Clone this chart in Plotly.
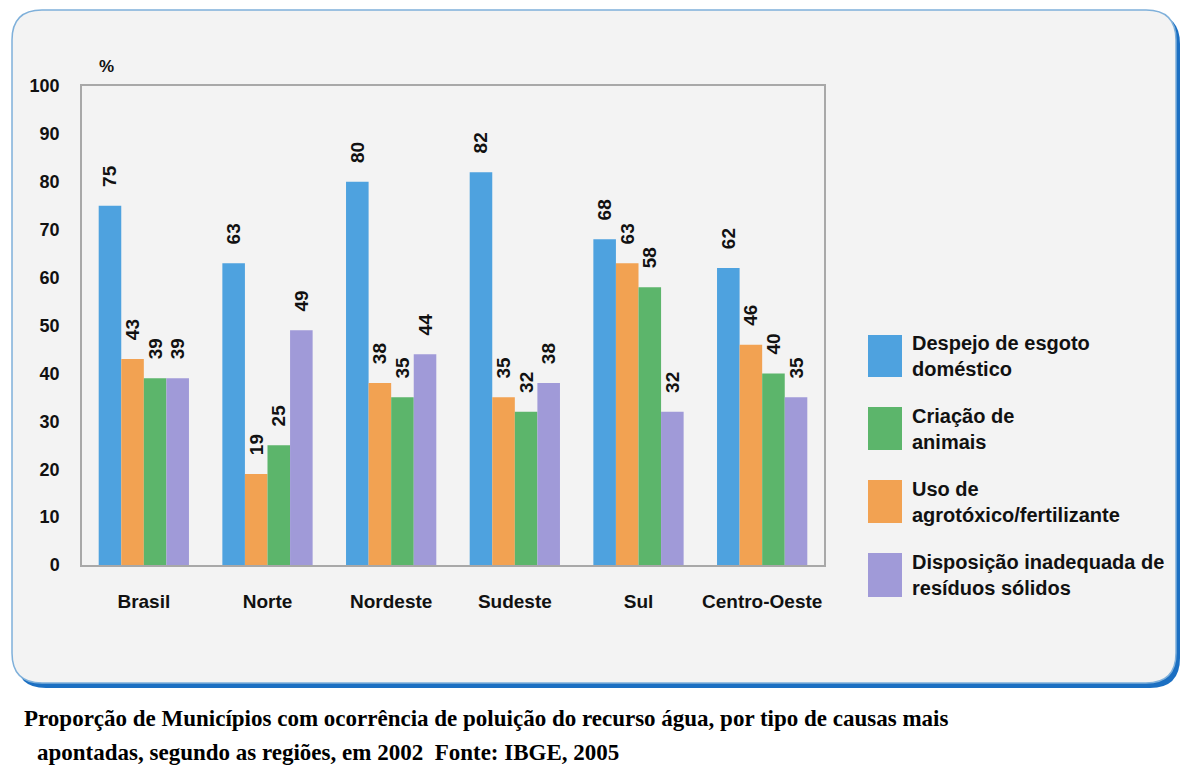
import plotly.graph_objects as go

# Regions (categories) and series values (% of municipalities)
regioes = ["Brasil", "Norte", "Nordeste", "Sudeste", "Sul", "Centro-Oeste"]
esgoto = [75, 63, 80, 82, 68, 62]
agrotoxico = [43, 19, 38, 35, 63, 46]
animais = [39, 25, 35, 32, 58, 40]
residuos = [39, 49, 44, 38, 32, 35]

nome_esgoto = "Despejo de esgoto<br>doméstico"
nome_animais = "Criação de<br>animais"
nome_agrotoxico = "Uso de<br>agrotóxico/fertilizante"
nome_residuos = "Disposição inadequada de<br>resíduos sólidos"

y_ticks = [0, 10, 20, 30, 40, 50, 60, 70, 80, 90, 100]

caption_1 = "Proporção de Municípios com ocorrência de poluição do recurso água, por tipo de causas mais"
caption_2 = "apontadas, segundo as regiões, em 2002  Fonte: IBGE, 2005"

COL_BLUE = "#4ea2df"
COL_ORANGE = "#f2a252"
COL_GREEN = "#5cb56b"
COL_PURPLE = "#a09ad8"

FONT = "Arial, Liberation Sans, sans-serif"
SERIF = "Liberation Serif, Times New Roman, serif"
W, H = 1187, 771
L, R, T, B = 82, 824, 86, 565  # plot area in pixels


def px(x):
    return (x - L) / (R - L)


def py(y):
    return (B - y) / (B - T)


def rounded_rect(x0, y0, x1, y1, r):
    pts = [
        f"M {px(x0 + r)},{py(y0)}",
        f"L {px(x1 - r)},{py(y0)}",
        f"Q {px(x1)},{py(y0)} {px(x1)},{py(y0 + r)}",
        f"L {px(x1)},{py(y1 - r)}",
        f"Q {px(x1)},{py(y1)} {px(x1 - r)},{py(y1)}",
        f"L {px(x0 + r)},{py(y1)}",
        f"Q {px(x0)},{py(y1)} {px(x0)},{py(y1 - r)}",
        f"L {px(x0)},{py(y0 + r)}",
        f"Q {px(x0)},{py(y0)} {px(x0 + r)},{py(y0)}",
        "Z",
    ]
    return " ".join(pts)


fig = go.Figure()

series = [
    (nome_esgoto, esgoto, COL_BLUE),
    (nome_agrotoxico, agrotoxico, COL_ORANGE),
    (nome_animais, animais, COL_GREEN),
    (nome_residuos, residuos, COL_PURPLE),
]
for name, vals, col in series:
    fig.add_trace(go.Bar(
        x=regioes, y=vals, name=name,
        marker=dict(color=col, line=dict(width=0)),
        text=vals,
        texttemplate="\u00a0\u00a0\u00a0%{y}",
        textposition="outside",
        textangle=-90,
        constraintext="none",
        cliponaxis=False,
        textfont=dict(family=FONT, size=19, color="#111111", weight="bold"),
        outsidetextfont=dict(family=FONT, size=19, color="#111111", weight="bold"),
        showlegend=False,
    ))

shapes = [
    # shadow of the panel
    dict(type="path", xref="paper", yref="paper", layer="below",
         path=rounded_rect(16, 14, 1180, 688, 30),
         fillcolor="#1b6fc2", line=dict(width=0)),
    # panel
    dict(type="path", xref="paper", yref="paper", layer="below",
         path=rounded_rect(12, 10, 1176, 683, 30),
         fillcolor="#f3f3f3", line=dict(color="#7fb0da", width=1.5)),
]

annotations = [
    dict(text="%", x=px(97), y=py(55), xref="paper", yref="paper",
         showarrow=False, font=dict(family=FONT, size=17, color="#111111", weight="bold")),
    dict(text=caption_1, x=px(22), y=py(718), xref="paper", yref="paper",
         xanchor="left", yanchor="middle", showarrow=False,
         font=dict(family=SERIF, size=23, color="#000000", weight="bold")),
    dict(text=caption_2, x=px(35), y=py(752), xref="paper", yref="paper",
         xanchor="left", yanchor="middle", showarrow=False,
         font=dict(family=SERIF, size=23, color="#000000", weight="bold")),
]

# legend drawn as swatches with two-line labels
legend_items = [
    (nome_esgoto, COL_BLUE, 335, 377),
    (nome_animais, COL_GREEN, 407, 450),
    (nome_agrotoxico, COL_ORANGE, 480, 523),
    (nome_residuos, COL_PURPLE, 553, 597),
]
for name, col, y0, y1 in legend_items:
    shapes.append(dict(type="rect", xref="paper", yref="paper",
                       x0=px(868), x1=px(902), y0=py(y0), y1=py(y1),
                       fillcolor=col, line=dict(width=0)))
    annotations.append(dict(text=name, x=px(910), y=py((y0 + y1) / 2),
                            xref="paper", yref="paper", xanchor="left", yanchor="middle",
                            align="left", showarrow=False,
                            font=dict(family=FONT, size=20, color="#111111", weight="bold")))

fig.update_layout(
    width=W, height=H,
    margin=dict(l=L, r=W - R, t=T, b=H - B, pad=0),
    paper_bgcolor="#ffffff",
    plot_bgcolor="rgba(0,0,0,0)",
    barmode="group",
    bargap=0.27,
    bargroupgap=0,
    shapes=shapes,
    annotations=annotations,
    xaxis=dict(
        showgrid=False, showline=True, linecolor="#a8a8a8", linewidth=1.5, mirror=True,
        ticks="", ticklabelstandoff=18,
        tickfont=dict(family=FONT, size=19, color="#111111", weight="bold"),
    ),
    yaxis=dict(
        range=[0, 100], showgrid=False, zeroline=False,
        showline=True, linecolor="#a8a8a8", linewidth=1.5, mirror=True,
        ticks="", tickvals=y_ticks,
        ticklabelstandoff=17,
        tickfont=dict(family=FONT, size=18, color="#111111", weight="bold"),
    ),
)

fig.write_html("out.html")
